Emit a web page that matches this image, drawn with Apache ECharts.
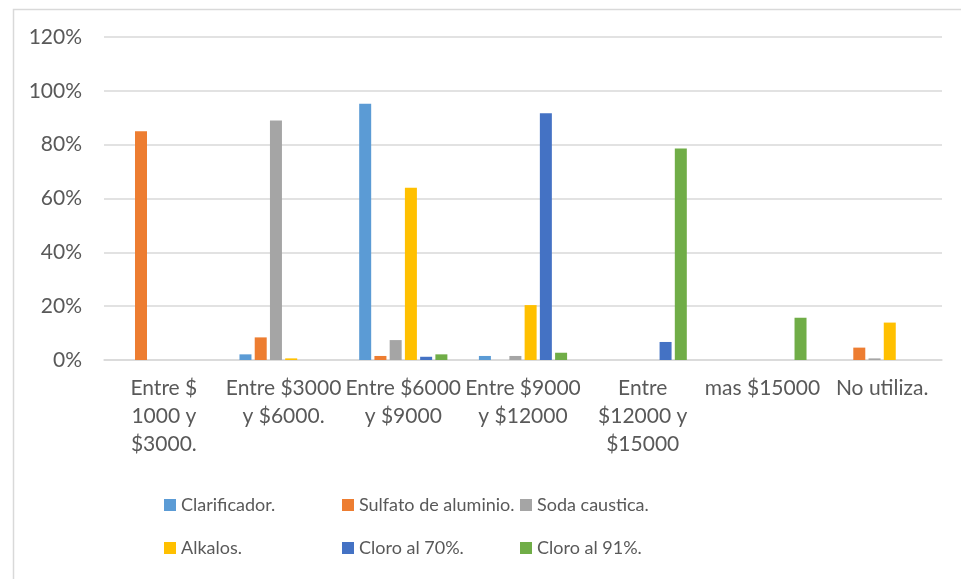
<!DOCTYPE html>
<html>
<head>
<meta charset="utf-8">
<script src="https://cdn.jsdelivr.net/npm/echarts@6/dist/echarts.min.js"></script>
<style>html,body{margin:0;padding:0;background:#fff;}#c{width:961px;height:579px;}</style>
</head>
<body>
<div id="c"></div>
<script>
var categories = ["Entre $\n1000 y\n$3000.", "Entre $3000\ny $6000.", "Entre $6000\ny $9000", "Entre $9000\ny $12000", "Entre\n$12000 y\n$15000", "mas $15000", "No utiliza."];
var seriesNames = ["Clarificador.", "Sulfato de aluminio.", "Soda caustica.", "Alkalos.", "Cloro al 70%.", "Cloro al 91%."];
var clarificador = [0, 2.1, 95.2, 1.5, 0, 0, 0];
var sulfato = [85, 8.4, 1.5, 0, 0, 0, 4.6];
var soda = [0, 89, 7.4, 1.5, 0, 0, 0.6];
var alkalos = [0, 0.6, 64, 20.4, 0, 0, 13.9];
var cloro70 = [0, 0, 1.2, 91.7, 6.7, 0, 0];
var cloro91 = [0, 0, 2.1, 2.7, 78.6, 15.7, 0];
var yTicks = [0, 20, 40, 60, 80, 100, 120];
var colors = ["#5B9BD5", "#ED7D31", "#A5A5A5", "#FFC000", "#4472C4", "#70AD47"];
var values = [clarificador, sulfato, soda, alkalos, cloro70, cloro91];

var FONT = "Lato";
var TXT = "#595959";
var chart = echarts.init(document.getElementById('c'));
var series = seriesNames.map(function (n, i) {
  return {
    name: n, type: 'bar', data: values[i], barWidth: 12, barGap: '27%',
    itemStyle: { color: colors[i] }, animation: false
  };
});
function legendCol(left, names) {
  return {
    orient: 'vertical', left: left, top: 493, padding: 0, itemWidth: 12, itemHeight: 12, itemGap: 19,
    icon: 'rect', data: names,
    textStyle: { fontFamily: FONT, fontSize: 18, color: TXT, lineHeight: 24, padding: [0, 0, 0, 0] }
  };
}
chart.setOption({
  animation: false,
  color: colors,
  grid: { left: 104, right: 19, top: 37, bottom: 219, containLabel: false },
  xAxis: {
    type: 'category', data: categories,
    axisLine: { lineStyle: { color: '#d9d9d9', width: 1.5 } },
    axisTick: { show: false },
    axisLabel: { interval: 0, fontFamily: FONT, fontSize: 21, color: TXT, lineHeight: 28, margin: 14 }
  },
  yAxis: {
    type: 'value', min: yTicks[0], max: yTicks[yTicks.length - 1], interval: yTicks[1] - yTicks[0],
    axisLine: { show: false }, axisTick: { show: false },
    splitLine: { lineStyle: { color: '#d9d9d9', width: 1.5 } },
    axisLabel: { formatter: '{value}%', fontFamily: FONT, fontSize: 21, color: TXT, margin: 22 }
  },
  legend: [
    legendCol(164, [seriesNames[0], seriesNames[3]]),
    legendCol(342, [seriesNames[1], seriesNames[4]]),
    legendCol(520, [seriesNames[2], seriesNames[5]])
  ],
  graphic: [{
    type: 'rect', left: 11, top: 7, shape: { width: 970, height: 590 },
    style: { fill: 'none', stroke: '#d9d9d9', lineWidth: 1.5 }, silent: true
  }],
  series: series
});
</script>
</body>
</html>
